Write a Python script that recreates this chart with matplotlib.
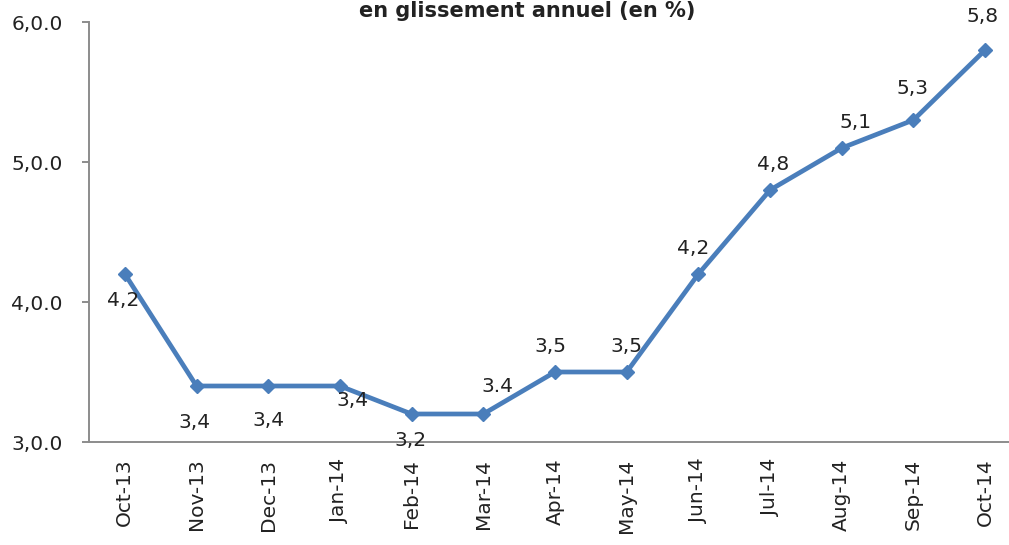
import matplotlib
matplotlib.use("Agg")
import matplotlib.pyplot as plt
import numpy as np

months = ["Oct-13", "Nov-13", "Dec-13", "Jan-14", "Feb-14", "Mar-14", "Apr-14",
          "May-14", "Jun-14", "Jul-14", "Aug-14", "Sep-14", "Oct-14"]
values = [4.2, 3.4, 3.4, 3.4, 3.2, 3.2, 3.5, 3.5, 4.2, 4.8, 5.1, 5.3, 5.8]
point_labels = ["4,2", "3,4", "3,4", "3,4", "3,2", "3.4", "3,5", "3,5",
                "4,2", "4,8", "5,1", "5,3", "5,8"]
yticks = [3.0, 4.0, 5.0, 6.0]
ytick_labels = ["3,0.0", "4,0.0", "5,0.0", "6,0.0"]

# label offsets in pixels (dx, dy) relative to each point
offsets = [(-2, -27), (-2, -37), (0, -35), (13, -15), (-1, -26), (14, 28),
           (-5, 25), (0, 25), (-5, 26), (3, 26), (14, 25), (-1, 31), (-3, 34)]

fig = plt.figure(figsize=(10.09, 5.45), dpi=100)
ax = fig.add_axes([89 / 1009, 1 - 442 / 545, (1021 - 89) / 1009, (442 - 22) / 545])

x = np.arange(len(months))
ax.plot(x, values, color="#4a7ebb", linewidth=3.4, marker="D", markersize=7,
        solid_joinstyle="round")

fs = 14.5
for xi, v, lab, (dx, dy) in zip(x, values, point_labels, offsets):
    ax.annotate(lab, (xi, v), xytext=(dx * 0.72, dy * 0.72), textcoords="offset points",
                ha="center", va="center", fontsize=fs, color="#222222")

ax.set_xlim(-0.5, len(months) - 0.5)
ax.set_ylim(3.0, 6.0)
ax.set_yticks(yticks)
ax.set_yticklabels(ytick_labels)
ax.set_xticks(x)
ax.set_xticklabels(months, rotation=90)

for s in ["top", "right"]:
    ax.spines[s].set_visible(False)
for s in ["left", "bottom"]:
    ax.spines[s].set_color("#8c8c8c")
    ax.spines[s].set_linewidth(1.4)
ax.tick_params(axis="y", length=5, width=1.4, color="#8c8c8c", labelsize=fs,
               labelcolor="#222222", pad=14)
ax.tick_params(axis="x", length=0, labelsize=fs, labelcolor="#222222", pad=12)

fig.text(527 / 1009, 1 - 17 / 545, "en glissement annuel (en %)", ha="center",
         va="baseline", fontsize=15, fontweight="bold", color="#222222")

fig.savefig("out.png", dpi=100)
